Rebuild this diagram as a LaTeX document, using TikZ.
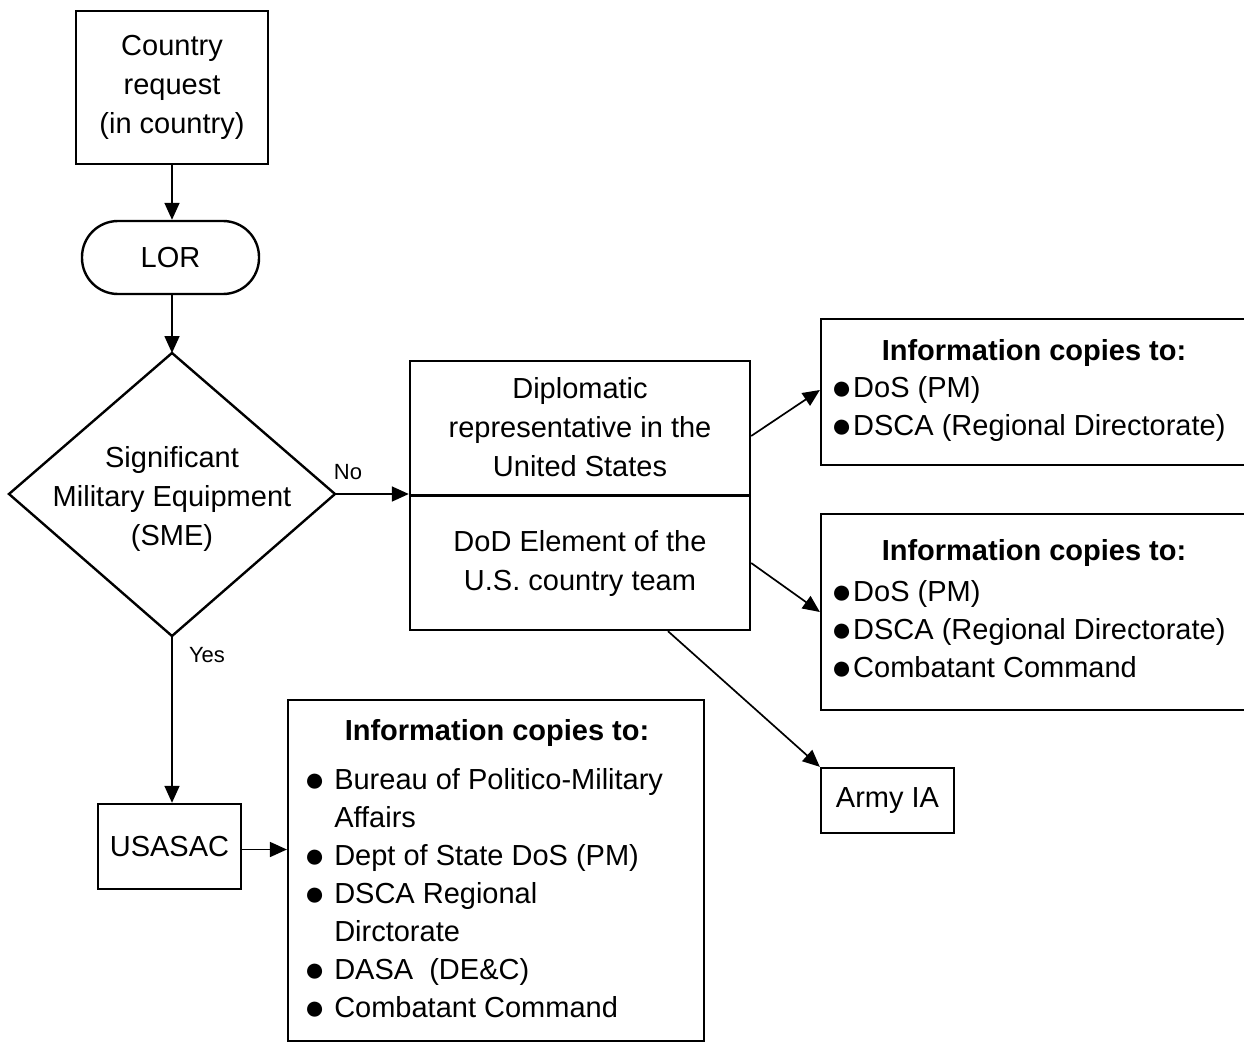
\documentclass[tikz,border=0pt]{standalone}
\usepackage{fontspec}
\setmainfont{Liberation Sans}
\usetikzlibrary{arrows.meta,calc}
\newcommand\bigbul{\makebox[23pt][c]{\raisebox{-2.3pt}{\fontsize{35}{38}\selectfont ●}}}
\begin{document}
\begin{tikzpicture}[x=1pt,y=-1pt,
  box/.style={draw, line width=2.4pt, inner sep=0pt, align=center, font=\fontsize{29}{39}\selectfont},
  ibox/.style={draw, line width=2.2pt, inner sep=0pt},
  txt/.style={inner sep=0pt, align=center, font=\fontsize{29}{39}\selectfont},
  items/.style={inner sep=0pt, align=left, anchor=west, font=\fontsize{29}{38}\selectfont},
  ttl/.style={inner sep=0pt, font=\fontsize{29}{38}\selectfont\bfseries},
  lbl/.style={inner sep=0pt, font=\fontsize{22}{26}\selectfont},
  arr/.style={line width=1.7pt, -{Triangle[length=17pt,width=15pt]}},
  ln/.style={line width=2.4pt}]
\useasboundingbox (0,0) rectangle (1244,1043);

% left column
\node[box, minimum width=192pt, minimum height=153pt] (country) at (172,87.5) {Country\\request\\(in country)};
\node[box, rounded corners=36pt, minimum width=177pt, minimum height=73pt] (lor) at (170.5,257.5) {LOR};

\coordinate (dt) at (172,353);
\coordinate (dl) at (9,494);
\coordinate (dr) at (335,494);
\coordinate (db) at (172,636);
\draw[ln, line join=miter] (dt) -- (dr) -- (db) -- (dl) -- cycle;
\node[txt] (sme) at (172,499) {Significant\\Military Equipment\\(SME)};

\draw[arr] (country.south -| dt) -- (lor.north -| dt);
\draw[arr] (lor.south -| dt) -- (dt);

% central box
\node[box, minimum width=340pt, minimum height=269pt] (dip) at (580,495.5) {};
\draw[ln] (dip.west) -- (dip.east);
\node[txt] (diptxt) at (580,427) {Diplomatic\\representative in the\\United States};
\node[txt] (dodtxt) at (580,563) {DoD Element of the\\U.S. country team};

\draw[arr] (dr) -- (dr -| dip.west);
\node[lbl] (no) at (348,472) {No};

% USASAC
\node[box, minimum width=143pt, minimum height=85pt] (usasac) at (169.5,846.5) {USASAC};
\draw[arr] (db) -- (db |- usasac.north);
\node[lbl] (yes) at (207,655) {Yes};

% bottom info box
\node[ibox, minimum width=416pt, minimum height=341pt] (info3) at (496,870.5) {};
\draw[arr] ([yshift=-3pt]usasac.east) -- ([yshift=-3pt]usasac.east -| info3.west);
\node[ttl] (t3) at (497,733) {Information copies to:};
\node[items] (i3) at (303,894) {\bigbul{} Bureau of Politico-Military\\\phantom{\bigbul{} }Affairs\\\bigbul{} Dept of State DoS (PM)\\\bigbul{} DSCA Regional\\\phantom{\bigbul{} }Dirctorate\\\bigbul{} DASA\ \ (DE\&C)\\\bigbul{} Combatant Command};

% right info boxes
\node[ibox, minimum width=427pt, minimum height=146pt] (info1) at (1034.5,392) {};
\node[ttl] (t1) at (1034,353) {Information copies to:};
\node[items] (i1) at (830,409) {\bigbul{}DoS (PM)\\\bigbul{}DSCA (Regional Directorate)};

\node[ibox, minimum width=427pt, minimum height=196pt] (info2) at (1034.5,612) {};
\node[ttl] (t2) at (1034,553) {Information copies to:};
\node[items] (i2) at (830,630) {\bigbul{}DoS (PM)\\\bigbul{}DSCA (Regional Directorate)\\\bigbul{}Combatant Command};

% Army IA
\node[box, minimum width=133pt, minimum height=65pt] (army) at (887.5,800.5) {Army IA};

\draw[arr] ([yshift=59.5pt]dip.east) -- ([yshift=2pt]info1.west);
\draw[arr] ([yshift=-67.5pt]dip.east) -- (info2.west);
\draw[arr] ([xshift=88pt]dip.south) -- (army.north west);
\end{tikzpicture}
\end{document}
